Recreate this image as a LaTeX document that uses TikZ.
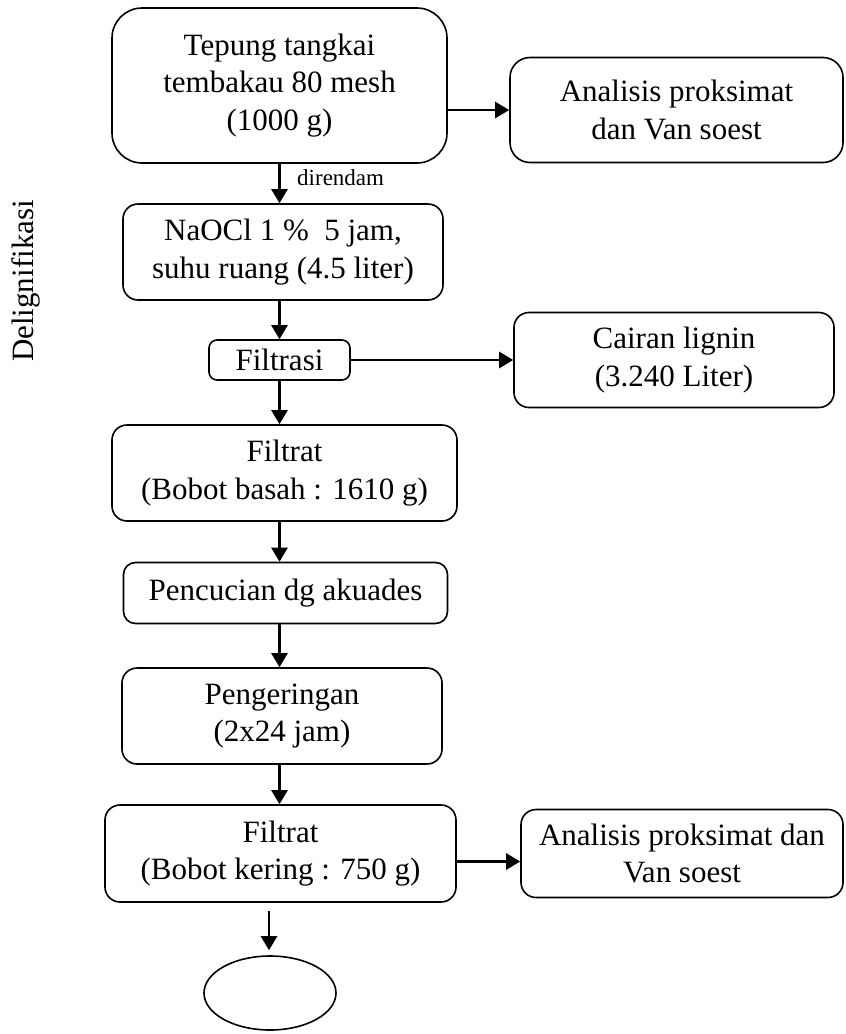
\documentclass[tikz,border=0pt]{standalone}
\usepackage{fontspec}
\setmainfont{Liberation Serif}
\usetikzlibrary{arrows.meta,shapes.geometric}
\begin{document}
\begin{tikzpicture}[x=1pt,y=-1pt,
  box/.style={draw, line width=1.6pt, rounded corners=15pt, align=center, inner sep=0pt,
    font=\fontsize{31}{37.5}\selectfont},
  arr/.style={line width=2.6pt, -{Triangle[length=14pt,width=16pt]}},
  lbl/.style={font=\fontsize{23}{27}\selectfont, inner sep=0pt}]
\useasboundingbox (0,0) rectangle (846,1034);
\coordinate (col) at (279.5,0);
\node[box, rounded corners=30pt, minimum width=335pt, minimum height=155pt] (a) at (279.5,85.5)
  {Tepung tangkai\\tembakau 80 mesh\\(1000 g)};
\node[box, rounded corners=20pt, minimum width=333pt, minimum height=105pt] (b) at (676.5,110)
  {Analisis proksimat\\dan Van soest};
\node[box, minimum width=320pt, minimum height=96pt] (c) at (283,252)
  {NaOCl 1 \%\ \ 5 jam,\\suhu ruang (4.5 liter)};
\node[box, rounded corners=8pt, minimum width=141pt, minimum height=40pt] (d) at (279.5,360)
  {Filtrasi};
\node[box, minimum width=320pt, minimum height=95pt] (e) at (674,360)
  {Cairan lignin\\(3.240 Liter)};
\node[box, minimum width=345pt, minimum height=96pt] (f) at (284.5,473)
  {Filtrat\\(Bobot basah : 1610 g)};
\node[box, rounded corners=12pt, minimum width=324pt, minimum height=61pt] (g) at (285.5,593)
  {Pencucian dg akuades};
\node[box, minimum width=320pt, minimum height=96pt] (h) at (282,716)
  {Pengeringan\\(2x24 jam)};
\node[box, minimum width=351pt, minimum height=97pt] (i) at (280.5,853.5)
  {Filtrat\\(Bobot kering : 750 g)};
\node[box, minimum width=322pt, minimum height=88pt] (j) at (682,853.5)
  {Analisis proksimat dan\\Van soest};
\node[draw, ellipse, line width=1.6pt, minimum width=132pt, minimum height=74pt, inner sep=0pt] (k) at (270,993) {};
\node[font=\fontsize{31}{37.5}\selectfont, rotate=90, inner sep=0pt] (dl) at (26,281) {Delignifikasi};
\node[lbl, anchor=west] (lab) at (297,178) {direndam};
\coordinate (q) at (269,911);
% connectors
\draw[arr] (a.south -| col) -- (c.north -| col);
\draw[arr] (a.east |- b.west) -- (b.west);
\draw[arr] (c.south -| col) -- (d.north -| col);
\draw[arr] (d.east) -- (d.east -| e.west);
\draw[arr] (d.south -| col) -- (f.north -| col);
\draw[arr] (f.south -| col) -- (g.north -| col);
\draw[arr] (g.south -| col) -- (h.north -| col);
\draw[arr] (h.south -| col) -- (i.north -| col);
\draw[arr] ([yshift=-8pt]i.east) -- ([yshift=-8pt]i.east -| j.west);
\draw[arr, shorten >=5pt] (q) -- (q |- k.north);
\end{tikzpicture}
\end{document}
